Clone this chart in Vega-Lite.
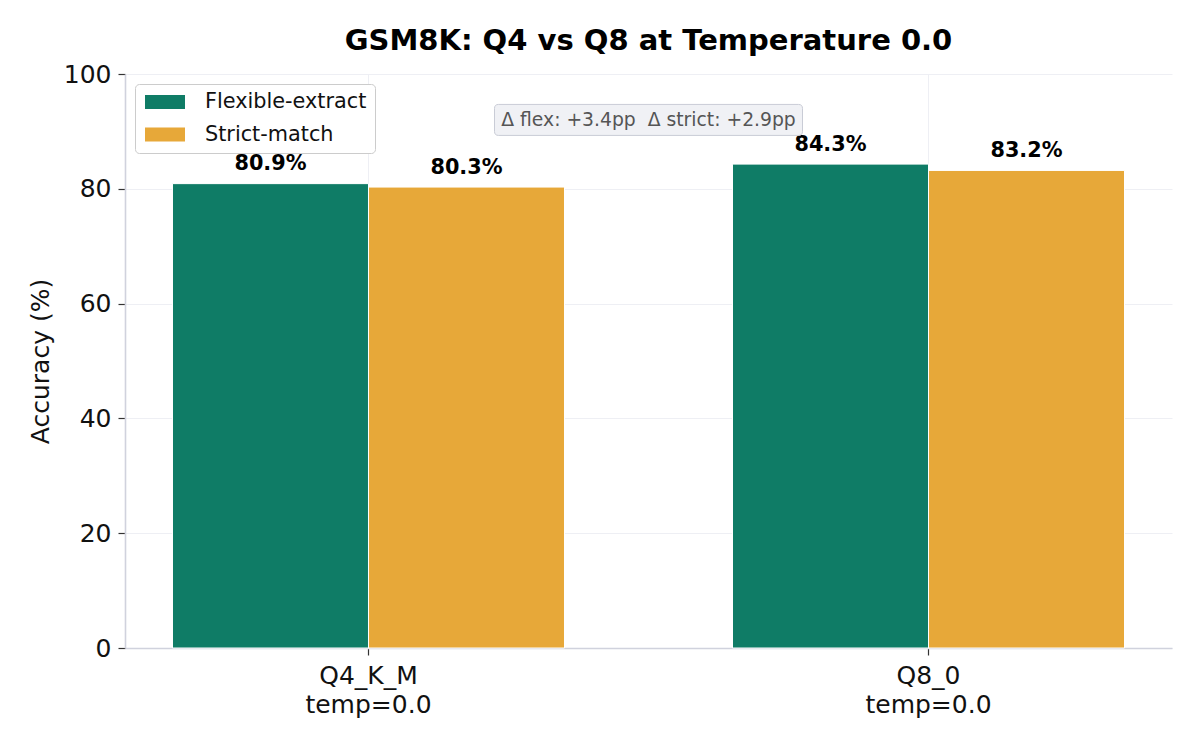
{
  "$schema": "https://vega.github.io/schema/vega-lite/v6.json",
  "width": 1047,
  "height": 574,
  "autosize": {"type": "none"},
  "padding": {"left": 125, "top": 74, "right": 28, "bottom": 102},
  "background": "white",
  "title": {
    "text": "GSM8K: Q4 vs Q8 at Temperature 0.0",
    "font": "DejaVu Sans",
    "fontSize": 29,
    "fontWeight": "bold",
    "color": "#000000",
    "anchor": "middle",
    "frame": "group",
    "offset": 6
  },
  "config": {
    "view": {"stroke": null},
    "font": "DejaVu Sans",
    "axis": {
      "labelFont": "DejaVu Sans",
      "titleFont": "DejaVu Sans",
      "labelColor": "#111111",
      "titleColor": "#111111",
      "tickColor": "#333333",
      "tickSize": 7,
      "tickWidth": 1.2,
      "domainColor": "#d0d2dd",
      "domainWidth": 1.6,
      "gridColor": "#eeeff4",
      "gridWidth": 1
    },
    "legend": {
      "labelFont": "DejaVu Sans"
    }
  },
  "datasets": {
    "scores": [
      {"model": "Q4_K_M", "metric": "Flexible-extract", "acc": 80.9},
      {"model": "Q4_K_M", "metric": "Strict-match", "acc": 80.3},
      {"model": "Q8_0", "metric": "Flexible-extract", "acc": 84.3},
      {"model": "Q8_0", "metric": "Strict-match", "acc": 83.2}
    ],
    "note": [
      {"text": "Δ flex: +3.4pp\u00a0 Δ strict: +2.9pp"}
    ]
  },
  "layer": [
    {
      "data": {"name": "scores"},
      "mark": {"type": "bar", "stroke": "white", "strokeWidth": 1},
      "encoding": {
        "x": {
          "field": "model",
          "type": "nominal",
          "sort": ["Q4_K_M", "Q8_0"],
          "scale": {"paddingInner": 0.3, "paddingOuter": 0.0848},
          "axis": {
            "title": null,
            "labelAngle": 0,
            "labelFontSize": 25,
            "labelPadding": 8,
            "labelLineHeight": 29,
            "labelExpr": "[datum.label, 'temp=0.0']",
            "grid": true,
            "bandPosition": 0.5,
            "ticks": true
          }
        },
        "xOffset": {
          "field": "metric",
          "type": "nominal",
          "sort": ["Flexible-extract", "Strict-match"],
          "scale": {"paddingInner": 0, "paddingOuter": 0}
        },
        "y": {
          "field": "acc",
          "type": "quantitative",
          "scale": {"domain": [0, 100], "nice": false},
          "axis": {
            "title": "Accuracy (%)",
            "titleFontSize": 25,
            "titleFontWeight": "normal",
            "titlePadding": 10,
            "values": [0, 20, 40, 60, 80, 100],
            "labelFontSize": 25,
            "labelPadding": 7,
            "grid": true
          }
        },
        "color": {
          "field": "metric",
          "type": "nominal",
          "sort": ["Flexible-extract", "Strict-match"],
          "scale": {"domain": ["Flexible-extract", "Strict-match"], "range": ["#0f7c66", "#e7a839"]},
          "legend": {
            "title": null,
            "orient": "top-left",
            "offset": 10,
            "labelFontSize": 20.8,
            "labelColor": "#111111",
            "labelLimit": 0,
            "symbolType": "M-1,-0.35L1,-0.35L1,0.35L-1,0.35Z",
            "symbolSize": 1600,
            "symbolStrokeWidth": 0,
            "symbolOpacity": 1,
            "symbolOffset": 2,
            "clipHeight": 20,
            "labelOffset": 20,
            "padding": 8,
            "rowPadding": 11.6,
            "strokeColor": "#cccccc",
            "fillColor": "white",
            "cornerRadius": 4
          }
        }
      }
    },
    {
      "data": {"name": "scores"},
      "transform": [{"calculate": "format(datum.acc, '.1f') + '%'", "as": "label"}],
      "mark": {"type": "text", "fontSize": 20.8, "fontWeight": "bold", "color": "#000000", "baseline": "alphabetic", "dy": -13.5},
      "encoding": {
        "x": {"field": "model", "type": "nominal", "sort": ["Q4_K_M", "Q8_0"]},
        "xOffset": {"field": "metric", "type": "nominal", "sort": ["Flexible-extract", "Strict-match"]},
        "y": {"field": "acc", "type": "quantitative"},
        "text": {"field": "label"}
      }
    },
    {
      "data": {"name": "note"},
      "mark": {
        "type": "point",
        "shape": "M-0.974,-0.1006L0.974,-0.1006Q1,-0.1006 1,-0.0746L1,0.0746Q1,0.1006 0.974,0.1006L-0.974,0.1006Q-1,0.1006 -1,0.0746L-1,-0.0746Q-1,-0.1006 -0.974,-0.1006Z",
        "size": 94864,
        "filled": true,
        "fill": "#f0f1f5",
        "stroke": "#c9ccd6",
        "strokeWidth": 1,
        "opacity": 1
      },
      "encoding": {
        "y": {"datum": 92, "type": "quantitative"}
      }
    },
    {
      "data": {"name": "note"},
      "mark": {"type": "text", "fontSize": 18.75, "color": "#555555", "baseline": "middle", "align": "center"},
      "encoding": {
        "y": {"datum": 92, "type": "quantitative"},
        "text": {"field": "text"}
      }
    }
  ]
}
